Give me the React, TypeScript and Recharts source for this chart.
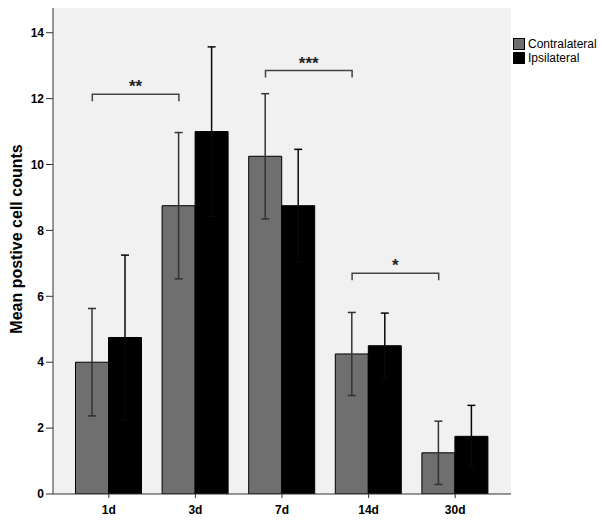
import React from 'react';
import { BarChart, Bar, XAxis, YAxis, CartesianGrid, ErrorBar, ReferenceLine } from 'recharts';

const categories = ['1d', '3d', '7d', '14d', '30d'];
const contralateral = [4.0, 8.75, 10.25, 4.25, 1.25];
const contralateralErr = [1.63, 2.22, 1.9, 1.26, 0.96];
const ipsilateral = [4.75, 11.0, 8.75, 4.5, 1.75];
const ipsilateralErr = [2.5, 2.57, 1.71, 0.99, 0.94];
const yTicks = [0, 2, 4, 6, 8, 10, 12, 14];
const seriesNames = ['Contralateral', 'Ipsilateral'];

const brackets = [
  { from: '1d', to: '3d', y: 12.13, label: '**' },
  { from: '7d', to: '14d', y: 12.85, label: '***' },
  { from: '14d', to: '30d', y: 6.7, label: '*' },
];

const data = categories.map((c, i) => ({
  name: c,
  Contralateral: contralateral[i],
  cErr: contralateralErr[i],
  Ipsilateral: ipsilateral[i],
  iErr: ipsilateralErr[i],
}));

const FONT = '"Liberation Sans", Arial, sans-serif';
const BAR = 33;
const GRAY = '#6f6f6f';
const COLORS = [GRAY, '#000'];

const makeBracket = (label: string) => (props: any) => {
  const { x1, y1, x2 } = props;
  const a = x1 - BAR / 2;
  const b = x2 - BAR / 2;
  const t = 7;
  return (
    <g>
      <path d={`M${a},${y1 + t}V${y1}H${b}V${y1 + t}`} fill="none" stroke="#444" strokeWidth={1.5} />
      <text x={(a + b) / 2} y={y1 - 2} textAnchor="middle" fontFamily={FONT} fontWeight="bold" fontSize={17} fill="#222">
        {label}
      </text>
    </g>
  );
};

export default function App() {
  return (
    <div style={{ position: 'absolute', left: 0, top: 0, width: 602, height: 521, background: '#fff' }}>
      <BarChart
        width={602}
        height={521}
        data={data}
        margin={{ top: 8, right: 91, bottom: 0, left: 0 }}
        barSize={BAR}
        barGap={0}
      >
        <CartesianGrid horizontal={false} vertical={false} fill="#f1f1f1" />
        <XAxis
          dataKey="name"
          height={27}
          padding={{ left: 12.5, right: 12.5 }}
          stroke="#333"
          tickSize={4}
          tickMargin={7}
          tick={{ fill: '#000', fontFamily: FONT, fontSize: 12, fontWeight: 'bold' }}
        />
        <XAxis xAxisId="top" dataKey="name" orientation="top" height={0} tick={false} tickLine={false} stroke="#333" />
        <YAxis
          width={53}
          domain={[0, 14.75]}
          ticks={yTicks}
          allowDataOverflow
          stroke="#333"
          tickSize={7}
          tickMargin={2}
          tick={{ fill: '#000', fontFamily: FONT, fontSize: 12, fontWeight: 'bold' }}
          label={{
            content: (p: any) => {
              const vb = p.viewBox || { x: 0, y: 8, height: 486 };
              const cx = 16.5;
              const cy = vb.y + vb.height / 2 - 12;
              return (
                <text
                  x={cx}
                  y={cy}
                  transform={`rotate(-90 ${cx} ${cy})`}
                  textAnchor="middle"
                  dominantBaseline="central"
                  fontFamily={FONT}
                  fontWeight="bold"
                  fontSize={16}
                  fill="#000"
                >
                  Mean postive cell counts
                </text>
              );
            },
          }}
        />
        <YAxis yAxisId="right" orientation="right" width={0} tick={false} tickLine={false} stroke="#333" domain={[0, 14.75]} />
        <Bar dataKey="Contralateral" fill={GRAY} stroke="#000" strokeWidth={1} isAnimationActive={false}>
          <ErrorBar dataKey="cErr" width={4} stroke="#333" strokeWidth={1.5} />
        </Bar>
        <Bar dataKey="Ipsilateral" fill="#000" stroke="#000" strokeWidth={1} isAnimationActive={false}>
          <ErrorBar dataKey="iErr" width={4} stroke="#080808" strokeWidth={1.5} />
        </Bar>
        {brackets.map((br) => (
          <ReferenceLine
            key={br.label}
            segment={[
              { x: br.from, y: br.y },
              { x: br.to, y: br.y },
            ]}
            shape={makeBracket(br.label)}
          />
        ))}
      </BarChart>
      <div
        style={{
          position: 'absolute',
          left: 513,
          top: 37,
          fontFamily: FONT,
          fontSize: 12,
          color: '#000',
          lineHeight: '14px',
        }}
      >
        {seriesNames.map((name, i) => (
          <div key={name} style={{ display: 'flex', alignItems: 'center', height: 14 }}>
            <span
              style={{
                display: 'inline-block',
                width: 10,
                height: 10,
                background: COLORS[i],
                border: '1px solid #000',
                marginRight: 3,
              }}
            />
            <span>{name}</span>
          </div>
        ))}
      </div>
    </div>
  );
}
